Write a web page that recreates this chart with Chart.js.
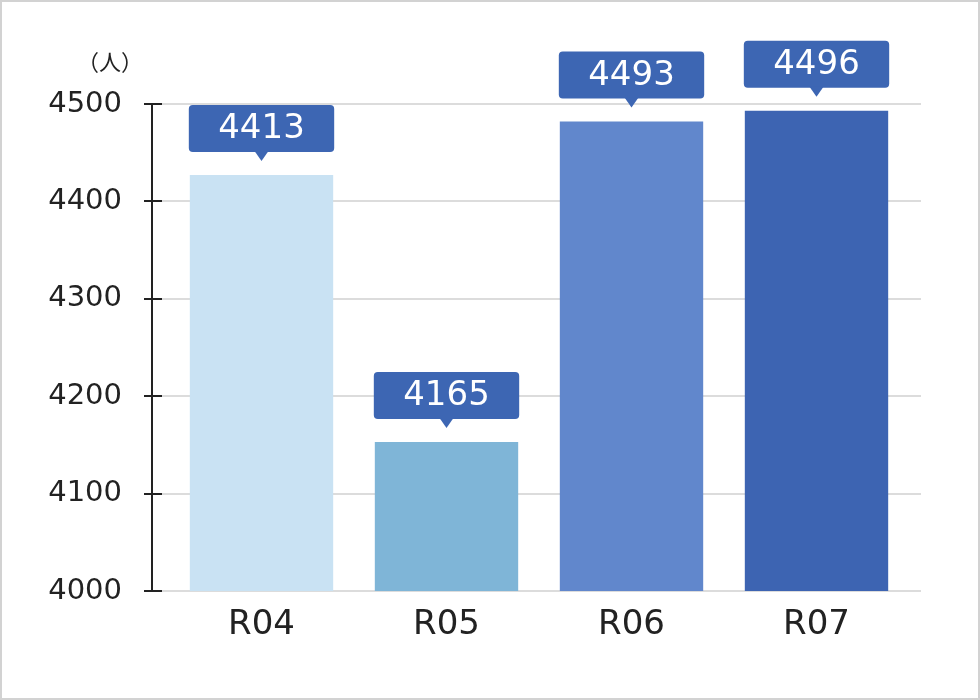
<!DOCTYPE html>
<html>
<head>
<meta charset="utf-8">
<script src="https://cdn.jsdelivr.net/npm/chart.js@4"></script>
<style>
html,body{margin:0;padding:0;background:#fff}
#wrap{width:980px;height:700px;position:relative}
</style>
</head>
<body>
<div id="wrap"><canvas id="chart" width="980" height="700"></canvas></div>
<script>
const years=["R04","R05","R06","R07"]
// bar heights as drawn in the picture
const barValues=[4427,4153,4482,4493]
// numbers printed in the callouts
const labelValues=[4413,4165,4493,4496]
const barColors=["#c9e2f3","#7fb5d7","#6187cc","#3d64b2"]
const yTicks=[4000,4100,4200,4300,4400,4500]
const unitText="（人）"

const font="'DejaVu Sans', sans-serif"
const jpFont="'Noto Sans CJK JP', sans-serif"

// axis line, tick marks, grid lines, frame, unit label
const axisPlugin={
id:"axisPlugin",
beforeDatasetsDraw(chart){
let ctx=chart.ctx
let y=chart.scales.y
let area=chart.chartArea
ctx.save()
ctx.strokeStyle="#dcdcdc"
ctx.lineWidth=2
yTicks.forEach(v=>{
let py=Math.round(y.getPixelForValue(v))
ctx.beginPath()
ctx.moveTo(area.left-7,py)
ctx.lineTo(area.right+12,py)
ctx.stroke()
})
ctx.strokeStyle="#222"
ctx.lineWidth=2
let ax=area.left-17
ctx.beginPath()
ctx.moveTo(ax,y.getPixelForValue(4500))
ctx.lineTo(ax,y.getPixelForValue(4000))
ctx.stroke()
yTicks.forEach(v=>{
let py=Math.round(y.getPixelForValue(v))
ctx.beginPath()
ctx.moveTo(ax-8,py)
ctx.lineTo(ax+10,py)
ctx.stroke()
})
ctx.fillStyle="#222"
ctx.font="22px "+jpFont
ctx.textAlign="center"
ctx.textBaseline="middle"
ctx.fillText(unitText,110,62)
ctx.restore()
},
afterDraw(chart){
let ctx=chart.ctx
ctx.save()
ctx.strokeStyle="#d2d2d2"
ctx.lineWidth=2
ctx.strokeRect(1,1,chart.width-2,chart.height-2)
ctx.restore()
}
}

// value callouts above the bars
const calloutPlugin={
id:"calloutPlugin",
afterDatasetsDraw(chart){
let ctx=chart.ctx
let meta=chart.getDatasetMeta(0)
ctx.save()
meta.data.forEach((bar,i)=>{
let w=bar.width+2
let h=47
let tip=bar.y-14
let bottom=tip-9
let left=bar.x-w/2
let top=bottom-h
ctx.fillStyle="#3d66b3"
ctx.beginPath()
ctx.roundRect(left,top,w,h,4)
ctx.fill()
ctx.beginPath()
ctx.moveTo(bar.x-7,bottom-1)
ctx.lineTo(bar.x+7,bottom-1)
ctx.lineTo(bar.x,tip)
ctx.closePath()
ctx.fill()
ctx.fillStyle="#fff"
ctx.font="34px "+font
ctx.textAlign="center"
ctx.textBaseline="middle"
ctx.fillText(String(labelValues[i]),bar.x,top+h/2+1)
})
ctx.restore()
}
}

new Chart(document.getElementById("chart"),{
type:"bar",
data:{
labels:years,
datasets:[{data:barValues,backgroundColor:barColors,borderWidth:0,barPercentage:0.775,categoryPercentage:1}]
},
options:{
responsive:false,
animation:false,
devicePixelRatio:1,
layout:{padding:{top:104,right:71,left:0,bottom:0}},
plugins:{legend:{display:false},tooltip:{enabled:false}},
scales:{
x:{
grid:{display:false},
border:{display:false},
ticks:{color:"#222",font:{size:34,family:font},padding:6},
afterFit(s){s.height=109}
},
y:{
min:4000,max:4500,
afterBuildTicks(s){s.ticks=yTicks.map(v=>({value:v}))},
grid:{display:false},
border:{display:false},
ticks:{color:"#222",font:{size:29,family:font},padding:39,callback:v=>String(v)},
afterFit(s){s.width=169}
}
}
},
plugins:[axisPlugin,calloutPlugin]
})
</script>
</body>
</html>
